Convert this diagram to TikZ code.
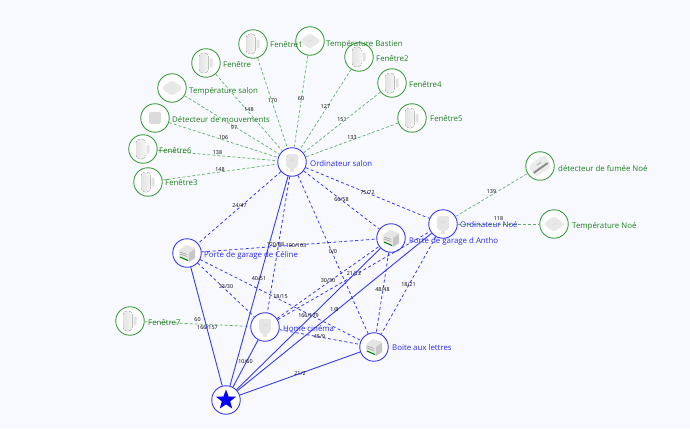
\documentclass[tikz,border=0pt]{standalone}
\usepackage{fontspec}
\setmainfont{Open Sans}
\usetikzlibrary{shapes.geometric,calc}
\definecolor{bg}{HTML}{F8F9FF}
\definecolor{gr}{HTML}{3E9E3E}
\definecolor{gl}{HTML}{1F7F1F}
\definecolor{bl}{HTML}{3A3AF0}
\definecolor{tb}{HTML}{2A2AF5}
\tikzset{
  dev/.style={circle,draw,line width=0.9pt,fill=white,minimum size=28.5pt,inner sep=0pt},
  gdev/.style={dev,draw=gr},
  bdev/.style={dev,draw=bl},
  gtxt/.style={font=\fontsize{7.85}{9}\selectfont,text=gl,anchor=west,inner sep=0pt},
  btxt/.style={font=\fontsize{7.85}{9}\selectfont,text=tb,anchor=west,inner sep=0pt},
  gedge/.style={draw=gr!80,line width=0.7pt,dash pattern=on 3pt off 2pt},
  bdash/.style={draw=bl,line width=0.8pt,dash pattern=on 3pt off 2.5pt},
  bsolid/.style={draw=bl,line width=0.9pt},
  lab/.style={font=\fontsize{5.4}{6}\selectfont,text=black,inner sep=0pt},
  pics/win/.style={code={
    \fill[left color=black!11,right color=black!4,rounded corners=4pt] (-7,-10) rectangle (2.5,10);
    \fill[black!11,rounded corners=.8pt] (3.5,-4.5) rectangle (6.5,4.5);}},
  pics/flat/.style={code={
    \fill[black!9,rounded corners=3pt] (0,-8) -- (11,0) -- (0,8) -- (-11,0) -- cycle;
    \draw[black!18,line width=0.3pt] (-1.5,1) -- (1.5,-1);}},
  pics/plug/.style={code={
    \fill[black!10,rounded corners=1.5pt] (-6,-8) -- (6,-8) -- (6,4) -- (3,7) -- (-3,7) -- (-6,4) -- cycle;
    \fill[black!10] (-2,7) rectangle (2,10);
    \fill[black!20] (-1.5,-3) rectangle (-.8,-1) (.8,-3) rectangle (1.5,-1);}},
  pics/mod/.style={code={
    \fill[black!10] (-8,-3) -- (-1,-8) -- (8,-5) -- (8,5) -- (2,9) -- (-8,5) -- cycle;
    \fill[black!22] (2,0) -- (8,-4) -- (8,5) -- (2,9) -- cycle;
    \draw[black!40,line width=0.5pt] (-7,-1) -- (0,1.5) (-7,1) -- (0,3.5);
    \draw[green!50!black,line width=1pt] (-7,4) -- (1,7.5);}},
  pics/smoke/.style={code={
    \begin{scope}[rotate=35]
    \fill[black!8,rounded corners=4pt] (-10,-7) rectangle (10,7);
    \fill[black!45] (-9,1) rectangle (8,3);
    \fill[black!30] (-2,-3) rectangle (3,-2);
    \end{scope}}}
}
\begin{document}
\begin{tikzpicture}[x=1pt,y=-1pt]
\useasboundingbox[fill=bg] (0,0) rectangle (690,428);
% nodes
\node[bdev] (salon) at (292,162) {};
\node[bdev] (noe) at (443,224) {};
\node[bdev] (antho) at (391,238) {};
\node[bdev] (celine) at (187,253) {};
\node[bdev] (home) at (265,327) {};
\node[bdev] (boite) at (374,347) {};
\node[bdev] (star) at (226,400) {};
\node[gdev] (f1) at (253,44) {};
\node[gdev] (tb) at (310,41) {};
\node[gdev] (f) at (206,63) {};
\node[gdev] (ts) at (172,88) {};
\node[gdev] (dm) at (155,118) {};
\node[gdev] (f6) at (143,149) {};
\node[gdev] (f3) at (148,182) {};
\node[gdev] (f2) at (359,57) {};
\node[gdev] (f4) at (392,83) {};
\node[gdev] (f5) at (412,118) {};
\node[gdev] (df) at (540,166) {};
\node[gdev] (tn) at (554,224) {};
\node[gdev] (f7) at (130,321) {};
% edges
\foreach \a/\l in {f1/170,tb/60,f/148,dm/106,f6/138,f3/148,f2/127,f4/151,f5/133}{
  \path[gedge] (\a) -- (salon) node[lab,midway,yshift=2.5pt] {\l};
}
\path[gedge] (ts) -- (salon) node[lab,midway,xshift=2pt,yshift=-3pt] {97};
\path[gedge] (noe) -- (df) node[lab,midway,yshift=3pt] {139};
\path[gedge] (noe) -- (tn) node[lab,midway,yshift=5pt] {118};
\path[gedge] (f7) -- (home) node[lab,midway,yshift=4pt] {60};
\path[bdash] (salon) -- (celine) node[lab,midway,yshift=2pt] {24/47};
\path[bdash] (salon) -- (home) node[lab,midway,xshift=-3pt] {120/88};
\path[bdash] (salon) -- (boite) node[lab,midway,yshift=3pt] {0/0};
\path[bdash] (salon) -- (antho) node[lab,midway] {66/58};
\path[bdash] (salon) -- (noe) node[lab,midway] {75/72};
\path[bdash] (celine) -- (antho) node[lab,midway,xshift=7pt] {100/103};
\path[bdash] (celine) -- (home) node[lab,midway,yshift=3pt] {33/30};
\path[bdash] (celine) -- (boite) node[lab,midway,yshift=3pt] {18/15};
\path[bdash] (home) -- (antho) node[lab,midway,yshift=2pt] {30/30};
\path[bdash] (home) -- (noe) node[lab,midway,yshift=2pt] {21/12};
\path[bdash] (home) -- (boite) node[lab,midway] {45/9};
\path[bdash] (antho) -- (boite) node[lab,midway,yshift=3pt] {48/48};
\path[bdash] (noe) -- (boite) node[lab,midway,yshift=1pt] {18/21};
\path[bsolid] (star) -- (celine) node[lab,midway,xshift=1pt,yshift=-1pt] {166/157};
\path[bsolid] (star) -- (salon) node[lab,midway,yshift=2pt] {40/51};
\path[bsolid] (star) -- (home) node[lab,midway,yshift=2pt] {10/60};
\path[bsolid] (star) -- (antho) node[lab,midway,yshift=3pt] {166/179};
\path[bsolid] (star) -- (noe) node[lab,midway,yshift=2pt] {1/8};
\path[bsolid] (star) -- (boite) node[lab,midway] {21/2};
% icons
\foreach \a in {f1,f,f6,f3,f2,f4,f5,f7}{\pic at (\a) {win};}
\foreach \a in {tb,ts,tn}{\pic at (\a) {flat};}
\fill[black!14,rounded corners=2pt] ($(dm)+(-6,-6)$) rectangle ($(dm)+(6,6)$);
\foreach \a in {salon,noe,home}{\pic at (\a) {plug};}
\foreach \a in {antho,celine,boite}{\pic at (\a) {mod};}
\pic at (df) {smoke};
\node[star,star points=5,star point ratio=2.4,fill=blue,inner sep=0pt,minimum size=21pt] (staricon) at (226,400) {};
% texts
\node[gtxt] (t1) at (270,45) {Fenêtre1};
\node[gtxt] (t2) at (326,44) {Température Bastien};
\node[gtxt] (t3) at (223,65) {Fenêtre};
\node[gtxt] (t4) at (189,91) {Température salon};
\node[gtxt] (t5) at (172,120) {Détecteur de mouvements};
\node[gtxt] (t6) at (159,151) {Fenêtre6};
\node[gtxt] (t7) at (165,183) {Fenêtre3};
\node[gtxt] (t8) at (376,59) {Fenêtre2};
\node[gtxt] (t9) at (409,85) {Fenêtre4};
\node[gtxt] (t10) at (430,119) {Fenêtre5};
\node[gtxt] (t11) at (558,169) {détecteur de fumée Noé};
\node[gtxt] (t12) at (572,226) {Température Noé};
\node[gtxt] (t13) at (148,323) {Fenêtre7};
\node[btxt] (t14) at (310,164) {Ordinateur salon};
\node[btxt] (t15) at (460,225) {Ordinateur Noé};
\node[btxt] (t16) at (409,241) {Porte de garage d Antho};
\node[btxt] (t17) at (204,255) {Porte de garage de Céline};
\node[btxt] (t18) at (283,329) {Home cinéma};
\node[btxt] (t19) at (392,348) {Boite aux lettres};
\end{tikzpicture}
\end{document}
